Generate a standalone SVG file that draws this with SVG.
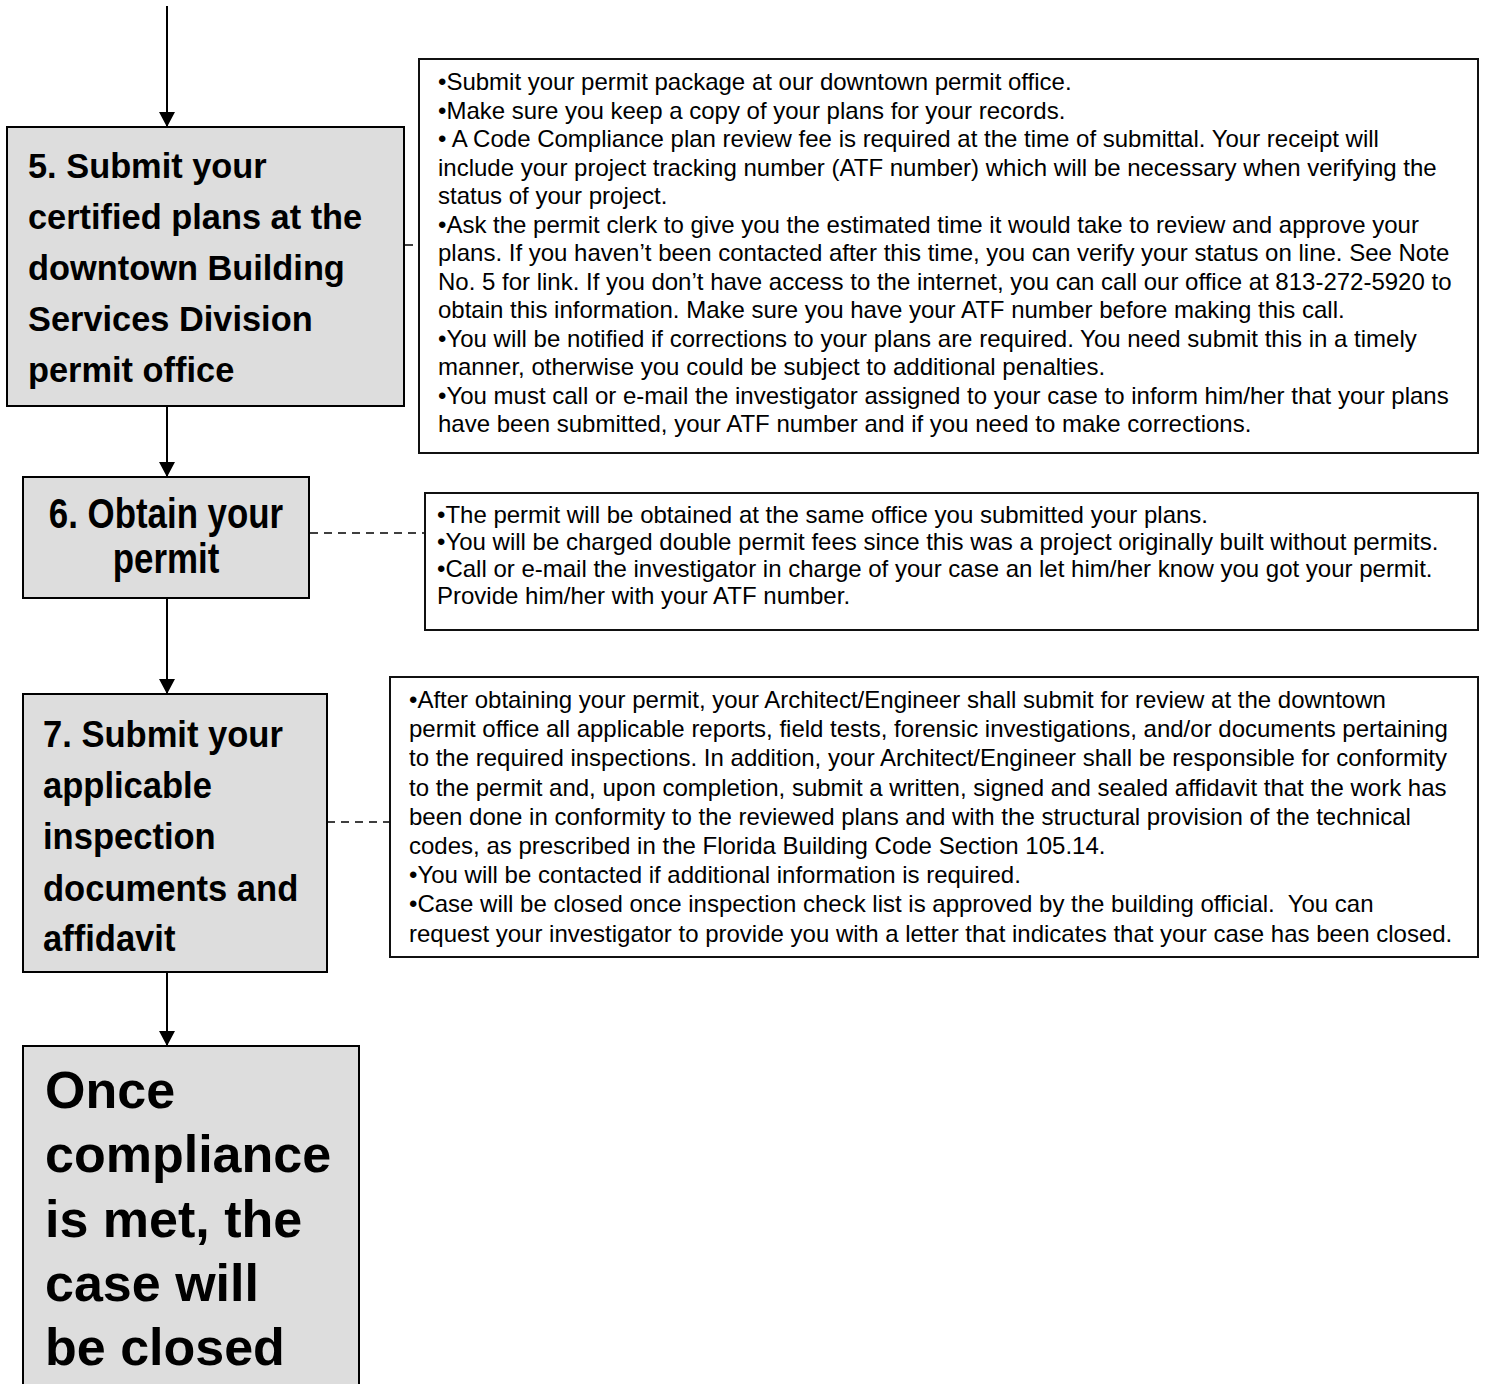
<svg xmlns="http://www.w3.org/2000/svg" width="1485" height="1384" viewBox="0 0 1485 1384">
<defs>
<marker id="ah" markerUnits="userSpaceOnUse" markerWidth="16" markerHeight="16" viewBox="0 0 16 16" refX="15" refY="8" orient="auto">
<path d="M0,0 L15,8 L0,16 Z" fill="#000"/>
</marker>
</defs>
<style>
.step{fill:#dddddd;stroke:#000;stroke-width:2}
.note{fill:#fff;stroke:#111;stroke-width:2}
.st{font-family:"Liberation Sans",Arial,sans-serif;font-weight:bold;fill:#000}
.nt{font-family:"Liberation Sans",Arial,sans-serif;font-size:24px;fill:#000}
.fin{font-family:"Liberation Sans",Arial,sans-serif;font-weight:bold;font-size:52px;fill:#000}
.flow{stroke:#000;stroke-width:2;fill:none}
.dash{stroke:#000;stroke-width:1.5;fill:none;stroke-dasharray:8,6}
</style>
<rect width="1485" height="1384" fill="#fff"/>

<g id="connectors">
<line class="flow" x1="167" y1="6" x2="167" y2="127" marker-end="url(#ah)"/>
<line class="flow" x1="167" y1="406" x2="167" y2="477" marker-end="url(#ah)"/>
<line class="flow" x1="167" y1="598" x2="167" y2="694" marker-end="url(#ah)"/>
<line class="flow" x1="167" y1="972" x2="167" y2="1046" marker-end="url(#ah)"/>
<line class="dash" x1="405" y1="245" x2="419" y2="245"/>
<line class="dash" x1="310" y1="533" x2="425" y2="533"/>
<line class="dash" x1="327" y1="822" x2="390" y2="822"/>
</g>

<g id="step5">
<rect class="step" x="7" y="127" width="397" height="279"/>
<g transform="translate(28,0) scale(0.955,1)" class="st" font-size="36">
<text x="0" y="178">5. Submit your</text>
<text x="0" y="229">certified plans at the</text>
<text x="0" y="280">downtown Building</text>
<text x="0" y="331">Services Division</text>
<text x="0" y="382">permit office</text>
</g>
</g>

<g id="note5">
<rect class="note" x="419" y="59" width="1059" height="394"/>
<g class="nt">
<text x="438" y="90">•Submit your permit package at our downtown permit office.</text>
<text x="438" y="118.5">•Make sure you keep a copy of your plans for your records.</text>
<text x="438" y="147">• A Code Compliance plan review fee is required at the time of submittal. Your receipt will</text>
<text x="438" y="175.5">include your project tracking number (ATF number) which will be necessary when verifying the</text>
<text x="438" y="204">status of your project.</text>
<text x="438" y="232.5">•Ask the permit clerk to give you the estimated time it would take to review and approve your</text>
<text x="438" y="261">plans. If you haven’t been contacted after this time, you can verify your status on line. See Note</text>
<text x="438" y="289.5">No. 5 for link. If you don’t have access to the internet, you can call our office at 813-272-5920 to</text>
<text x="438" y="318">obtain this information. Make sure you have your ATF number before making this call.</text>
<text x="438" y="346.5">•You will be notified if corrections to your plans are required. You need submit this in a timely</text>
<text x="438" y="375">manner, otherwise you could be subject to additional penalties.</text>
<text x="438" y="403.5">•You must call or e-mail the investigator assigned to your case to inform him/her that your plans</text>
<text x="438" y="432">have been submitted, your ATF number and if you need to make corrections.</text>
</g>
</g>

<g id="step6">
<rect class="step" x="23" y="477" width="286" height="121"/>
<g transform="translate(166,0) scale(0.83,1)" class="st" font-size="42" text-anchor="middle">
<text x="0" y="528">6. Obtain your</text>
<text x="0" y="573">permit</text>
</g>
</g>

<g id="note6">
<rect class="note" x="425" y="493" width="1053" height="137"/>
<g class="nt">
<text x="437" y="523">•The permit will be obtained at the same office you submitted your plans.</text>
<text x="437" y="550">•You will be charged double permit fees since this was a project originally built without permits.</text>
<text x="437" y="577">•Call or e-mail the investigator in charge of your case an let him/her know you got your permit.</text>
<text x="437" y="604">Provide him/her with your ATF number.</text>
</g>
</g>

<g id="step7">
<rect class="step" x="23" y="694" width="304" height="278"/>
<g transform="translate(43,0) scale(0.96,1)" class="st" font-size="36">
<text x="0" y="747">7. Submit your</text>
<text x="0" y="798">applicable</text>
<text x="0" y="849">inspection</text>
<text x="0" y="901">documents and</text>
<text x="0" y="951">affidavit</text>
</g>
</g>

<g id="note7">
<rect class="note" x="390" y="677" width="1088" height="280"/>
<g class="nt">
<text x="409" y="708">•After obtaining your permit, your Architect/Engineer shall submit for review at the downtown</text>
<text x="409" y="737.2">permit office all applicable reports, field tests, forensic investigations, and/or documents pertaining</text>
<text x="409" y="766.4">to the required inspections. In addition, your Architect/Engineer shall be responsible for conformity</text>
<text x="409" y="795.6">to the permit and, upon completion, submit a written, signed and sealed affidavit that the work has</text>
<text x="409" y="824.8">been done in conformity to the reviewed plans and with the structural provision of the technical</text>
<text x="409" y="854">codes, as prescribed in the Florida Building Code Section 105.14.</text>
<text x="409" y="883.2">•You will be contacted if additional information is required.</text>
<text x="409" y="912.4" xml:space="preserve">•Case will be closed once inspection check list is approved by the building official.  You can</text>
<text x="409" y="941.6">request your investigator to provide you with a letter that indicates that your case has been closed.</text>
</g>
</g>

<g id="final">
<rect class="step" x="23" y="1046" width="336" height="360"/>
<g class="fin">
<text x="45" y="1108">Once</text>
<text x="45" y="1172">compliance</text>
<text x="45" y="1237">is met, the</text>
<text x="45" y="1301">case will</text>
<text x="45" y="1365">be closed</text>
</g>
</g>
</svg>
